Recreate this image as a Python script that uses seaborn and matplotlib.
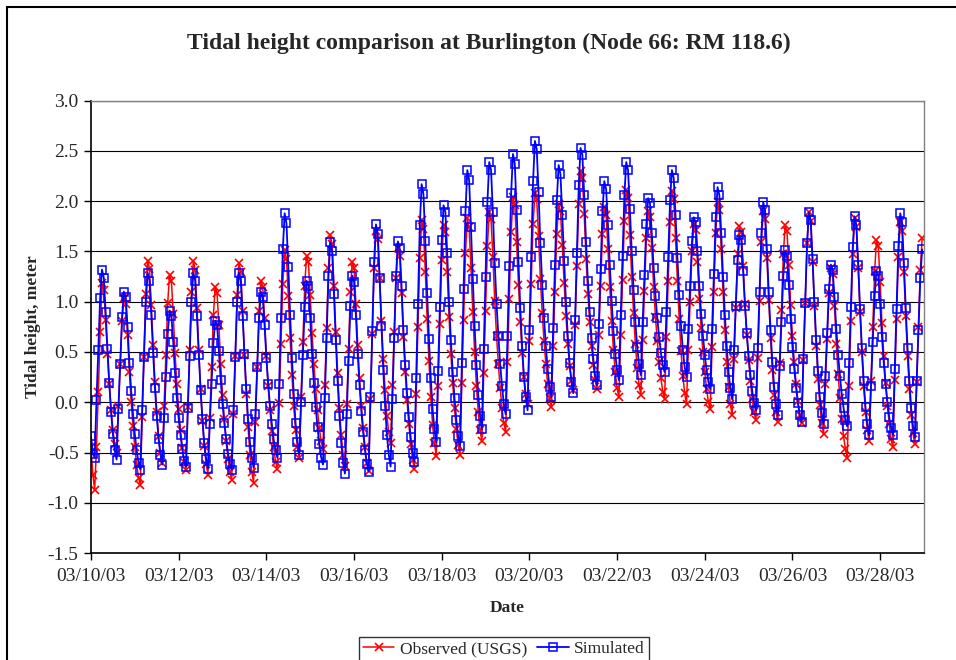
import numpy as np
import pandas as pd
import matplotlib
matplotlib.use("Agg")
import matplotlib.pyplot as plt
import matplotlib.dates as mdates
from matplotlib.patches import Rectangle
import seaborn as sns

# Hourly tidal heights (m) starting 03/10/03 00:00
observed = [
    -0.45, -0.72, -0.87, -0.45, 0.10, 0.70,
    1.19, 1.12, 0.82, 0.48, 0.18, -0.08, -0.28, -0.42, -0.50, -0.04, 0.38, 0.81,
    1.04, 0.98, 0.67, 0.30, 0.00, -0.24, -0.45, -0.62, -0.75, -0.82, -0.15, 0.45, 1.08,
    1.41, 1.33, 0.97, 0.57, 0.20, -0.10, -0.34, -0.50, -0.60, -0.04, 0.47, 0.99,
    1.27, 1.21, 0.88, 0.49, 0.18, -0.07, -0.28, -0.46, -0.59, -0.67, -0.05, 0.52, 1.10,
    1.41, 1.32, 0.94, 0.52, 0.13, -0.19, -0.44, -0.61, -0.72, -0.16, 0.35, 0.87,
    1.15, 1.09, 0.77, 0.38, 0.07, -0.17, -0.39, -0.56, -0.69, -0.77, -0.12, 0.46, 1.07,
    1.39, 1.30, 0.91, 0.47, 0.08, -0.25, -0.52, -0.69, -0.80, -0.20, 0.35, 0.91,
    1.21, 1.15, 0.84, 0.46, 0.16, -0.08, -0.29, -0.45, -0.59, -0.66, -0.01, 0.58, 1.18,
    1.51, 1.43, 1.06, 0.64, 0.27, -0.04, -0.28, -0.45, -0.55, 0.05, 0.60, 1.16,
    1.46, 1.40, 1.07, 0.69, 0.38, 0.13, -0.08, -0.26, -0.39, -0.47, 0.17, 0.74, 1.34,
    1.66, 1.57, 1.16, 0.70, 0.29, -0.06, -0.33, -0.52, -0.63, -0.02, 0.53, 1.10,
    1.40, 1.34, 0.98, 0.57, 0.24, -0.04, -0.26, -0.45, -0.60, -0.68, 0.03, 0.68, 1.34,
    1.70, 1.62, 1.24, 0.81, 0.43, 0.12, -0.14, -0.30, -0.41, 0.17, 0.70, 1.24,
    1.53, 1.46, 1.09, 0.65, 0.30, 0.02, -0.22, -0.42, -0.57, -0.66, 0.08, 0.75, 1.44,
    1.81, 1.72, 1.30, 0.83, 0.41, 0.05, -0.23, -0.41, -0.53, 0.16, 0.78, 1.42,
    1.76, 1.69, 1.30, 0.85, 0.48, 0.19, -0.06, -0.27, -0.43, -0.52, 0.19, 0.82, 1.48,
    1.83, 1.74, 1.34, 0.90, 0.50, 0.16, -0.10, -0.28, -0.39, 0.29, 0.91, 1.55,
    1.89, 1.82, 1.45, 1.01, 0.66, 0.38, 0.14, -0.06, -0.21, -0.30, 0.40, 1.03, 1.69,
    2.04, 1.96, 1.59, 1.17, 0.80, 0.49, 0.25, 0.08, -0.02, 0.61, 1.18, 1.77,
    2.08, 2.02, 1.65, 1.23, 0.89, 0.61, 0.38, 0.18, 0.04, -0.05, 0.56, 1.10, 1.67,
    1.97, 1.90, 1.56, 1.19, 0.86, 0.58, 0.36, 0.21, 0.12, 0.77, 1.36, 1.97,
    2.30, 2.23, 1.87, 1.43, 1.08, 0.80, 0.56, 0.37, 0.22, 0.13, 0.67, 1.16, 1.67,
    1.94, 1.86, 1.52, 1.15, 0.81, 0.52, 0.30, 0.14, 0.05, 0.67, 1.22, 1.80,
    2.11, 2.03, 1.66, 1.25, 0.89, 0.58, 0.34, 0.17, 0.07, 0.62, 1.11, 1.63,
    1.90, 1.84, 1.53, 1.15, 0.85, 0.61, 0.40, 0.24, 0.10, 0.03, 0.65, 1.21, 1.79,
    2.10, 2.02, 1.63, 1.21, 0.83, 0.51, 0.26, 0.09, -0.02, 0.52, 1.00, 1.50,
    1.77, 1.71, 1.40, 1.03, 0.74, 0.50, 0.30, 0.13, 0.00, -0.07, 0.55, 1.10, 1.68,
    1.99, 1.91, 1.52, 1.10, 0.72, 0.40, 0.15, -0.02, -0.13, 0.43, 0.94, 1.47,
    1.75, 1.69, 1.36, 0.98, 0.67, 0.42, 0.21, 0.03, -0.10, -0.18, 0.44, 1.01, 1.59,
    1.90, 1.82, 1.44, 1.02, 0.64, 0.32, 0.07, -0.10, -0.20, 0.39, 0.92, 1.47,
    1.76, 1.70, 1.37, 0.97, 0.66, 0.40, 0.18, 0.01, -0.13, -0.21, 0.42, 0.99, 1.58,
    1.89, 1.80, 1.40, 0.96, 0.56, 0.23, -0.03, -0.21, -0.32, 0.18, 0.63, 1.09,
    1.34, 1.28, 0.96, 0.58, 0.28, 0.04, -0.17, -0.34, -0.47, -0.55, 0.16, 0.81, 1.47,
    1.83, 1.74, 1.34, 0.90, 0.50, 0.16, -0.10, -0.28, -0.39, 0.21, 0.75, 1.31,
    1.61, 1.55, 1.20, 0.79, 0.46, 0.19, -0.04, -0.22, -0.37, -0.45, 0.22, 0.83, 1.45,
    1.79, 1.70, 1.30, 0.86, 0.46, 0.13, -0.13, -0.31, -0.42, 0.20, 0.75, 1.32,
    1.63,
]

simulated = [
    -0.34, -0.51, -0.55, 0.02, 0.52, 1.04,
    1.32, 1.24, 0.90, 0.53, 0.19, -0.10, -0.32, -0.48, -0.57, -0.07, 0.38, 0.85,
    1.10, 1.05, 0.75, 0.39, 0.11, -0.12, -0.32, -0.48, -0.60, -0.67, -0.08, 0.45, 1.00,
    1.29, 1.21, 0.87, 0.49, 0.14, -0.14, -0.37, -0.52, -0.62, -0.16, 0.25, 0.68,
    0.91, 0.86, 0.60, 0.29, 0.04, -0.16, -0.33, -0.47, -0.58, -0.64, -0.06, 0.46, 1.00,
    1.29, 1.21, 0.86, 0.47, 0.12, -0.17, -0.41, -0.56, -0.66, -0.22, 0.18, 0.59,
    0.81, 0.77, 0.51, 0.22, -0.02, -0.21, -0.37, -0.51, -0.61, -0.67, -0.08, 0.45, 1.00,
    1.29, 1.21, 0.86, 0.48, 0.13, -0.17, -0.40, -0.55, -0.65, -0.12, 0.35, 0.84,
    1.10, 1.05, 0.77, 0.44, 0.18, -0.04, -0.22, -0.37, -0.48, -0.55, 0.18, 0.84, 1.52,
    1.88, 1.78, 1.35, 0.87, 0.44, 0.08, -0.21, -0.40, -0.52, 0.00, 0.47, 0.95,
    1.21, 1.16, 0.84, 0.48, 0.19, -0.05, -0.25, -0.42, -0.55, -0.62, 0.04, 0.64, 1.26,
    1.59, 1.50, 1.08, 0.62, 0.21, -0.14, -0.41, -0.60, -0.71, -0.12, 0.41, 0.96,
    1.26, 1.20, 0.87, 0.48, 0.17, -0.09, -0.30, -0.48, -0.61, -0.69, 0.05, 0.71, 1.40,
    1.77, 1.67, 1.24, 0.76, 0.32, -0.04, -0.33, -0.52, -0.64, 0.03, 0.64, 1.26,
    1.60, 1.53, 1.16, 0.72, 0.37, 0.09, -0.15, -0.35, -0.50, -0.59, 0.24, 0.98, 1.76,
    2.17, 2.07, 1.60, 1.09, 0.63, 0.24, -0.07, -0.27, -0.40, 0.31, 0.95, 1.61,
    1.96, 1.89, 1.48, 1.00, 0.62, 0.30, 0.04, -0.18, -0.34, -0.44, 0.39, 1.13, 1.90,
    2.31, 2.21, 1.74, 1.23, 0.76, 0.37, 0.07, -0.14, -0.27, 0.53, 1.25, 1.99,
    2.39, 2.31, 1.89, 1.39, 0.98, 0.66, 0.38, 0.16, -0.02, -0.12, 0.66, 1.36, 2.08,
    2.47, 2.37, 1.91, 1.40, 0.94, 0.56, 0.25, 0.05, -0.08, 0.72, 1.45, 2.20,
    2.60, 2.52, 2.09, 1.58, 1.17, 0.84, 0.56, 0.33, 0.15, 0.05, 0.74, 1.37, 2.01,
    2.36, 2.27, 1.86, 1.41, 1.00, 0.66, 0.39, 0.20, 0.09, 0.82, 1.48, 2.16,
    2.53, 2.46, 2.06, 1.59, 1.21, 0.90, 0.64, 0.43, 0.26, 0.17, 0.78, 1.33, 1.90,
    2.20, 2.12, 1.76, 1.37, 1.01, 0.71, 0.48, 0.32, 0.22, 0.87, 1.46, 2.06,
    2.39, 2.31, 1.92, 1.50, 1.12, 0.80, 0.55, 0.38, 0.27, 0.80, 1.27, 1.77,
    2.03, 1.98, 1.68, 1.34, 1.06, 0.84, 0.65, 0.49, 0.37, 0.30, 0.90, 1.45, 2.01,
    2.31, 2.23, 1.86, 1.44, 1.07, 0.76, 0.52, 0.35, 0.25, 0.73, 1.16, 1.60,
    1.84, 1.79, 1.50, 1.16, 0.88, 0.66, 0.47, 0.32, 0.20, 0.13, 0.73, 1.28, 1.84,
    2.14, 2.06, 1.68, 1.25, 0.87, 0.56, 0.30, 0.14, 0.03, 0.52, 0.96, 1.42,
    1.66, 1.61, 1.31, 0.96, 0.69, 0.46, 0.27, 0.11, -0.01, -0.08, 0.54, 1.10, 1.68,
    1.99, 1.91, 1.52, 1.10, 0.72, 0.40, 0.15, -0.02, -0.13, 0.36, 0.80, 1.26,
    1.51, 1.46, 1.17, 0.83, 0.55, 0.33, 0.14, -0.01, -0.13, -0.20, 0.43, 0.99, 1.58,
    1.89, 1.81, 1.43, 1.00, 0.62, 0.31, 0.05, -0.11, -0.22, 0.26, 0.69, 1.13,
    1.37, 1.32, 1.05, 0.73, 0.47, 0.26, 0.08, -0.06, -0.18, -0.24, 0.39, 0.95, 1.54,
    1.85, 1.76, 1.37, 0.93, 0.54, 0.21, -0.05, -0.22, -0.33, 0.16, 0.60, 1.06,
    1.31, 1.26, 0.98, 0.65, 0.39, 0.18, 0.00, -0.15, -0.26, -0.33, 0.33, 0.93, 1.55,
    1.88, 1.79, 1.39, 0.94, 0.54, 0.21, -0.06, -0.24, -0.35, 0.21, 0.72, 1.24,
    1.52,
]

start = "2003-03-10 00:00"
date_ticks = ["2003-03-10", "2003-03-12", "2003-03-14", "2003-03-16", "2003-03-18",
              "2003-03-20", "2003-03-22", "2003-03-24", "2003-03-26", "2003-03-28"]

obs_df = pd.DataFrame({"time": pd.date_range(start, periods=len(observed), freq="h"),
                       "height": observed})
sim_df = pd.DataFrame({"time": pd.date_range(start, periods=len(simulated), freq="h"),
                       "height": simulated})

sns.set_style("white")
plt.rcParams["font.family"] = ["Liberation Serif", "DejaVu Serif"]

fig = plt.figure(figsize=(9.56, 6.6), dpi=100)
ax = fig.add_axes([0.0952, 0.1621, 0.8713, 0.6853])

sns.lineplot(data=obs_df, x="time", y="height", ax=ax, color="#ff0000",
             linewidth=1.1, marker="x", markersize=5.5, markeredgewidth=1.2,
             markeredgecolor="#ff0000", label="Observed (USGS)")
sns.lineplot(data=sim_df, x="time", y="height", ax=ax, color="#0000ff",
             linewidth=1.3, marker="s", markersize=5.5, markeredgewidth=1.1,
             markeredgecolor="#0000ff", markerfacecolor="none", label="Simulated")

ax.set_ylim(-1.5, 3.0)
ax.set_yticks(np.arange(-1.5, 3.01, 0.5))
ax.yaxis.set_major_formatter(matplotlib.ticker.FormatStrFormatter("%.1f"))
ax.set_xlim(pd.Timestamp("2003-03-10"), pd.Timestamp("2003-03-29"))
ax.set_xticks(pd.to_datetime(date_ticks))
ax.xaxis.set_major_formatter(mdates.DateFormatter("%m/%d/%y"))

ax.grid(axis="y", color="black", linewidth=0.8)
ax.grid(axis="x", visible=False)
ax.set_axisbelow(True)
for side in ["top", "right"]:
    ax.spines[side].set_color("#808080")
    ax.spines[side].set_linewidth(1.0)
for side in ["left", "bottom"]:
    ax.spines[side].set_color("black")
    ax.spines[side].set_linewidth(1.2)
ax.tick_params(axis="both", direction="out", length=5, width=1, color="black",
               labelsize=14, pad=4, left=True, bottom=True)
ax.tick_params(axis="x", pad=6)

ax.set_xlabel("Date", fontsize=12.5, fontweight="bold")
ax.set_ylabel("Tidal height, meter", fontsize=12.5, fontweight="bold")
ax.xaxis.set_label_coords(0.50, -0.104)
ax.yaxis.set_label_coords(-0.060, 0.5)

fig.text(0.511, 0.934, "Tidal height comparison at Burlington (Node 66: RM 118.6)",
         ha="center", va="center", fontsize=17, fontweight="bold")

ax.legend_.remove()
handles, labels = ax.get_legend_handles_labels()
leg = fig.legend(handles, labels, loc="center", bbox_to_anchor=(0.527, 0.0167),
                 ncol=2, frameon=True, fancybox=False, fontsize=12.5,
                 handlelength=1.8, handletextpad=0.3, columnspacing=0.6,
                 borderpad=0.25, edgecolor="black")
leg.get_frame().set_linewidth(1.0)

# outer chart frame (cropped on the right and bottom like the original)
fig.add_artist(Rectangle((7 / 956, -0.1), 1.2, 0.1 + 1 - 7 / 660,
                         transform=fig.transFigure, fill=False,
                         edgecolor="black", linewidth=1.5))

fig.savefig("out.png", dpi=100)
